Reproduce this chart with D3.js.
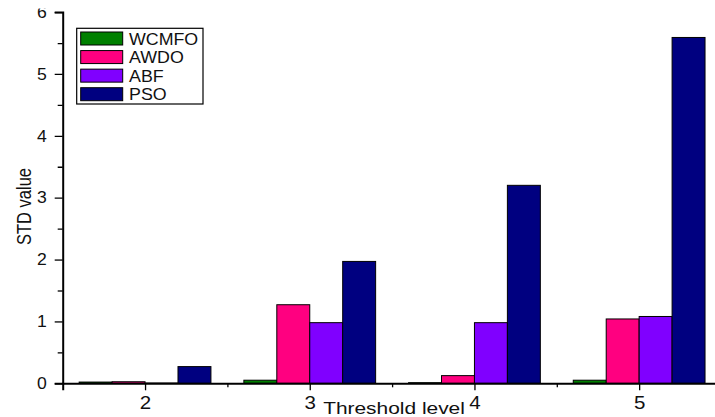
<!DOCTYPE html>
<html>
<head>
<meta charset="utf-8">
<script src="https://cdn.jsdelivr.net/npm/d3@7/dist/d3.min.js"></script>
<style>
  html, body { margin: 0; padding: 0; background: #fff; }
  svg { display: block; font-family: "Liberation Sans", Arial, sans-serif; }
</style>
</head>
<body>
<svg id="chart" width="715" height="417"></svg>
<script>
// Threshold levels on the x axis
const levels = [2, 3, 4, 5];
const levelLabels = ["2", "3", "4", "5"];

// Series names and colours
const seriesNames = ["WCMFO", "AWDO", "ABF", "PSO"];
const seriesColors = ["#008000", "#FF0080", "#8000FF", "#000080"];

// STD values per threshold level
const WCMFO = [0.02, 0.05, 0.01, 0.05];
const AWDO  = [0.025, 1.27, 0.124, 1.04];
const ABF   = [0.005, 0.98, 0.98, 1.08];
const PSO   = [0.27, 1.97, 3.2, 5.59];

// Axis ticks
const yMajorTicks = [0, 1, 2, 3, 4, 5, 6];
const yMinorTicks = [0.5, 1.5, 2.5, 3.5, 4.5, 5.5];
const xMinorTicks = [2.5, 3.5, 4.5];

const seriesValues = [WCMFO, AWDO, ABF, PSO];

const svg = d3.select("#chart");

const x = d3.scaleLinear().domain([1.5, 5.5]).range([62.7, 721.5]);
const y = d3.scaleLinear().domain([0, 6]).range([383.3, 12.1]);
const inner = d3.scaleBand().domain(seriesNames).range([0, x(2.4) - x(1.6)]).padding(0);

// Bars
const bars = [];
seriesNames.forEach((name, si) => {
  levels.forEach((lv, li) => {
    bars.push({ name, color: seriesColors[si], level: lv, value: seriesValues[si][li] });
  });
});

svg.append("g")
  .selectAll("rect")
  .data(bars)
  .join("rect")
  .attr("x", d => x(d.level - 0.4) + inner(d.name))
  .attr("width", inner.bandwidth())
  .attr("y", d => y(d.value))
  .attr("height", d => y(0) - y(d.value))
  .attr("fill", d => d.color)
  .attr("stroke", "#000")
  .attr("stroke-width", 1);

// Plot top edge cuts through the highest tick label
svg.append("clipPath").attr("id", "topcut")
  .append("rect").attr("x", -100).attr("y", 8.5).attr("width", 900).attr("height", 420);

// Y axis with major and minor ticks
const yAxisG = svg.append("g").attr("transform", `translate(${x(1.5)},0)`)
  .attr("clip-path", "url(#topcut)");
yAxisG.call(d3.axisLeft(y).tickValues(yMajorTicks).tickSize(8).tickFormat(d3.format("d")));
yAxisG.append("g").call(d3.axisLeft(y).tickValues(yMinorTicks).tickSize(5).tickFormat(""))
  .select(".domain").remove();
yAxisG.selectAll(".domain").attr("stroke", "#000").attr("stroke-width", 2);
yAxisG.selectAll(".tick line").attr("stroke", "#000").attr("stroke-width", 1.3);
yAxisG.selectAll(".tick text")
  .attr("x", null).attr("dy", null)
  .attr("font-size", 16).attr("fill", "#111")
  .attr("text-anchor", "end")
  .attr("dominant-baseline", "central")
  .attr("transform", `translate(-16,0) scale(1.1,1)`);

// X axis with major and minor ticks
const xAxisG = svg.append("g").attr("transform", `translate(0,${y(0)})`);
xAxisG.call(d3.axisBottom(x).tickValues(levels).tickSize(7)
  .tickFormat((d, i) => levelLabels[i]));
xAxisG.append("g").call(d3.axisBottom(x).tickValues(xMinorTicks).tickSize(4).tickFormat(""))
  .select(".domain").remove();
xAxisG.select(".domain").attr("stroke", "#000").attr("stroke-width", 2);
xAxisG.selectAll(".tick line").attr("stroke", "#000").attr("stroke-width", 1.3);
xAxisG.selectAll(".tick text")
  .attr("y", null).attr("dy", null)
  .attr("font-size", 19).attr("fill", "#111")
  .attr("transform", `translate(0,26) scale(1.08,1)`);

// Axis titles
svg.append("text")
  .attr("transform", `translate(394,414) scale(1.23,1)`)
  .attr("text-anchor", "middle")
  .attr("font-size", 17).attr("fill", "#111")
  .text("Threshold level");

svg.append("text")
  .attr("transform", `translate(31,206.5) scale(1.2,1) rotate(-90)`)
  .attr("text-anchor", "middle")
  .attr("font-size", 16.5).attr("fill", "#111")
  .text("STD value");

// Legend
const legend = svg.append("g");
legend.append("rect")
  .attr("x", 76.7).attr("y", 28.3).attr("width", 126.3).attr("height", 75.7)
  .attr("fill", "#fff").attr("stroke", "#000").attr("stroke-width", 1.2);
const rowY = d3.scalePoint().domain(seriesNames).range([32, 87.7]);
const items = legend.selectAll("g.item").data(seriesNames).join("g").attr("class", "item");
items.append("rect")
  .attr("x", 80.7).attr("y", d => rowY(d)).attr("width", 42).attr("height", 13)
  .attr("fill", (d, i) => seriesColors[i]).attr("stroke", "#000").attr("stroke-width", 1);
items.append("text")
  .attr("transform", d => `translate(129,${rowY(d) + 12.5}) scale(1.1,1)`)
  .attr("font-size", 16.2).attr("fill", "#111")
  .text(d => d);
</script>
</body>
</html>
